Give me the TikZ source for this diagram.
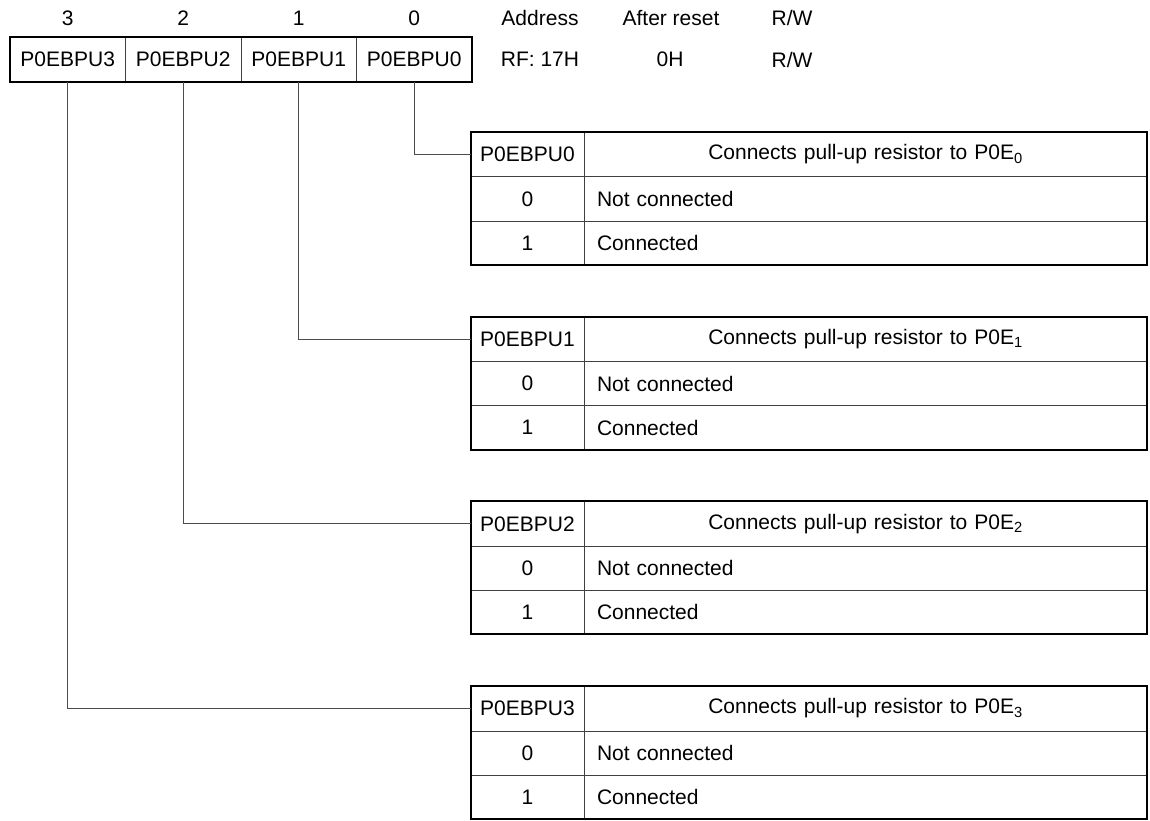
\documentclass[tikz,border=0pt]{standalone}
\usepackage{fontspec}
\setmainfont{Liberation Sans}
\usetikzlibrary{positioning}
\tikzset{
  % one bit of the register
  bit cell/.style = {
    draw = black!75,
    line width = 1pt,
    minimum width = 115.5pt,
    minimum height = 45pt,
    inner sep = 0,
    outer sep = 0
  },
  % bit number above the register
  bit num/.style = {
    inner sep = 0
  },
  % address / reset / access texts
  info/.style = {
    inner sep = 0
  },
  % heavy outline
  frame/.style = {
    draw = black,
    line width = 2pt
  },
  % line from a bit to its table
  link/.style = {
    draw = black!70,
    line width = 1pt
  }
}
\tikzset {
  % left column of a table
  key cell/.style = {
    draw = black!75,
    line width = 1pt,
    minimum width = 113pt,
    minimum height = #1,
    inner sep = 0,
    outer sep = 0
  },
  % right column of a table
  desc cell/.style = {
    draw = black!75,
    line width = 1pt,
    text width = 537pt,
    inner xsep = 13pt,
    inner ysep = 0,
    minimum height = #1,
    outer sep = 0
  }
}

\begin{document}
\begin{tikzpicture}[x=1pt, y=-1pt, font=\fontsize{21}{25}\selectfont]
  \useasboundingbox (0,0) rectangle (1150,821);

  % register
  \node[bit cell, anchor=north west] (bit3) at (10,37) {P0EBPU3};
  \node[bit cell] (bit2) [right=0pt of bit3] {P0EBPU2};
  \node[bit cell] (bit1) [right=0pt of bit2] {P0EBPU1};
  \node[bit cell] (bit0) [right=0pt of bit1] {P0EBPU0};
  \draw[frame] (bit3.north west) rectangle (bit0.south east);

  \foreach \n in {0,...,3}
    \node[bit num] (num\n) [above=11pt of bit\n] {\n};

  \node[info] (addr) at (540,18) {Address};
  \node[info] (addr val) at (540,59.5) {RF: 17H};
  \node[info] (reset) at (671,18) {After reset};
  \node[info] (reset val) at (670,59.5) {0H};
  \node[info] (rw) at (792,18) {R/W};
  \node[info] (rw val) at (792,59.5) {R/W};

  % one table for each bit
  \foreach \n [evaluate=\n as \top using 132+184.67*\n] in {0,...,3} {
    \node[key cell=45pt, anchor=north west] (key\n) at (471,\top) {P0EBPU\n};
    \node[desc cell=45pt, align=center] (head\n) [right=0pt of key\n]
      {Connects pull-up resistor to P0E\textsubscript{\n}};
    \node[key cell=44pt] (zero\n) [below=0pt of key\n] {0};
    \node[desc cell=44pt, align=left] (off\n) [right=0pt of zero\n] {Not connected};
    \node[key cell=44pt] (one\n) [below=0pt of zero\n] {1};
    \node[desc cell=44pt, align=left] (on\n) [right=0pt of one\n] {Connected};
    \draw[frame] (key\n.north west) rectangle (on\n.south east);

    \draw[link] (bit\n.south) |- (key\n.west);
  }
\end{tikzpicture}
\end{document}
